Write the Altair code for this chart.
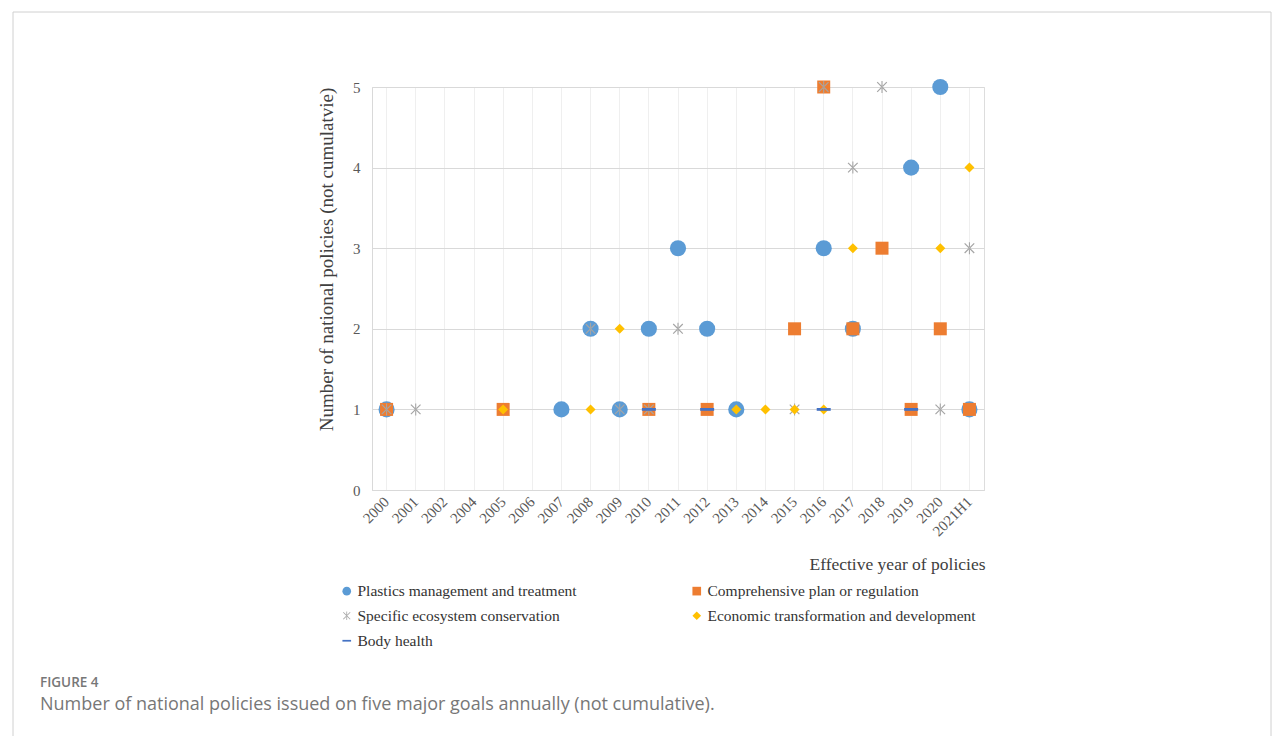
import altair as alt
import pandas as pd

# Category axis (effective year of policies)
years = ["2000", "2001", "2002", "2004", "2005", "2006", "2007", "2008", "2009", "2010",
         "2011", "2012", "2013", "2014", "2015", "2016", "2017", "2018", "2019", "2020", "2021H1"]

series_names = [
    "Plastics management and treatment",
    "Comprehensive plan or regulation",
    "Specific ecosystem conservation",
    "Economic transformation and development",
    "Body health",
]

plastics_years = ["2000", "2007", "2008", "2009", "2010", "2011", "2012", "2013", "2016", "2017", "2019", "2020", "2021H1"]
plastics_counts = [1, 1, 2, 1, 2, 3, 2, 1, 3, 2, 4, 5, 1]

comprehensive_years = ["2000", "2005", "2010", "2012", "2015", "2016", "2017", "2018", "2019", "2020", "2021H1"]
comprehensive_counts = [1, 1, 1, 1, 2, 5, 2, 3, 1, 2, 1]

ecosystem_years = ["2000", "2001", "2008", "2009", "2010", "2011", "2015", "2016", "2017", "2018", "2020", "2021H1"]
ecosystem_counts = [1, 1, 2, 1, 1, 2, 1, 5, 4, 5, 1, 3]

economic_years = ["2005", "2008", "2009", "2013", "2014", "2015", "2016", "2017", "2020", "2021H1"]
economic_counts = [1, 1, 2, 1, 1, 1, 1, 3, 3, 4]

health_years = ["2010", "2012", "2016", "2019"]
health_counts = [1, 1, 1, 1]

rows = []
for name, ys, cs in zip(
    series_names,
    [plastics_years, comprehensive_years, ecosystem_years, economic_years, health_years],
    [plastics_counts, comprehensive_counts, ecosystem_counts, economic_counts, health_counts],
):
    for y, c in zip(ys, cs):
        rows.append({"year": y, "count": c, "series": name})
df = pd.DataFrame(rows)

# one-row table for the decorative frame and caption
single = pd.DataFrame({"k": [0]})

# Symbol shapes: asterisk and dash as filled paths so fill colour drives them
ASTERISK = ("M-0.09,-1H0.09V1H-0.09Z"
            "M-0.73,-0.87L0.87,0.73L0.73,0.87L-0.87,-0.73Z"
            "M-0.73,0.87L0.87,-0.73L0.73,-0.87L-0.87,0.73Z")
DASH = "M-1,-0.2H1V0.2H-1Z"

colors = ["#5B9BD5", "#ED7D31", "#A5A5A5", "#FFC000", "#4472C4"]
shapes = ["circle", "square", ASTERISK, "diamond", DASH]
marker_sizes = [260, 169, 144, 100, 196]

SERIF = "Liberation Serif"
W, H = 612, 403
LEFT, TOP = 372, 87

size_expr = f"{marker_sizes}[indexof({series_names}, datum.series)]"

points = alt.Chart(df).transform_calculate(msize=size_expr).mark_point(
    filled=True, opacity=1, strokeWidth=0
).encode(
    x=alt.X(
        "year:N",
        sort=years,
        scale=alt.Scale(domain=years, type="band", paddingInner=0, paddingOuter=0),
        axis=alt.Axis(
            title="Effective year of policies",
            labelAngle=-45, labelAlign="right", labelBaseline="middle",
            labelFont=SERIF, labelFontSize=15, labelColor="#595959",
            labelPadding=9, ticks=False,
            grid=True, gridColor="#efefef", bandPosition=0.5,
            domainColor="#d9d9d9",
            titleFont=SERIF, titleFontSize=17.5, titleFontWeight="normal", titleColor="#404040",
            titleX=W + 1, titleY=79, titleAlign="right", titleBaseline="alphabetic",
        ),
    ),
    y=alt.Y(
        "count:Q",
        scale=alt.Scale(domain=[0, 5], nice=False),
        axis=alt.Axis(
            title="Number of national policies (not cumulatvie)",
            values=[0, 1, 2, 3, 4, 5], format="d",
            labelFont=SERIF, labelFontSize=15, labelColor="#595959", labelPadding=12,
            ticks=False, grid=True, gridColor="#d9d9d9", domainColor="#d9d9d9",
            titleFont=SERIF, titleFontSize=19, titleFontWeight="normal", titleColor="#404040",
            titleX=-46, titleY=172, titleAngle=270, titleAlign="center", titleBaseline="middle",
        ),
    ),
    color=alt.Color(
        "series:N",
        sort=series_names,
        scale=alt.Scale(domain=series_names, range=colors),
        legend=alt.Legend(
            title=None, orient="none", legendX=-33, legendY=496, direction="horizontal",
            columns=2, columnPadding=112, rowPadding=8,
            labelFont=SERIF, labelFontSize=15.5, labelColor="#333333", labelOffset=3,
            symbolSize=75, symbolStrokeWidth=0, labelLimit=400,
        ),
    ),
    shape=alt.Shape("series:N", sort=series_names,
                    scale=alt.Scale(domain=series_names, range=shapes)),
    size=alt.Size("msize:Q", scale=None, legend=None),
)

# Thin page frame around the figure
frame = alt.Chart(single).mark_rect(filled=False, stroke="#d0d0d0", strokeWidth=1).encode(
    x=alt.value(13 - LEFT), x2=alt.value(1271 - LEFT),
    y=alt.value(12 - TOP), y2=alt.value(760 - TOP),
)

fig_label = alt.Chart(single).mark_text(
    text="FIGURE 4", font="Open Sans", fontSize=13.5, fontWeight=600, color="#777777",
    align="left", baseline="alphabetic",
).encode(x=alt.value(40 - LEFT), y=alt.value(687 - TOP))

caption = alt.Chart(single).mark_text(
    text="Number of national policies issued on five major goals annually (not cumulative).",
    font="Open Sans", fontSize=18, fontWeight="normal", color="#777777",
    align="left", baseline="alphabetic",
).encode(x=alt.value(40 - LEFT), y=alt.value(710 - TOP))

chart = alt.layer(frame, points, fig_label, caption).properties(
    width=W, height=H,
    autosize=alt.AutoSizeParams(type="none"),
    padding={"left": LEFT, "top": TOP, "right": 1284 - LEFT - W, "bottom": 736 - TOP - H},
).configure_view(stroke=None).configure(background="white")

chart.save("out.html", embed_options={"renderer": "svg", "actions": False})
